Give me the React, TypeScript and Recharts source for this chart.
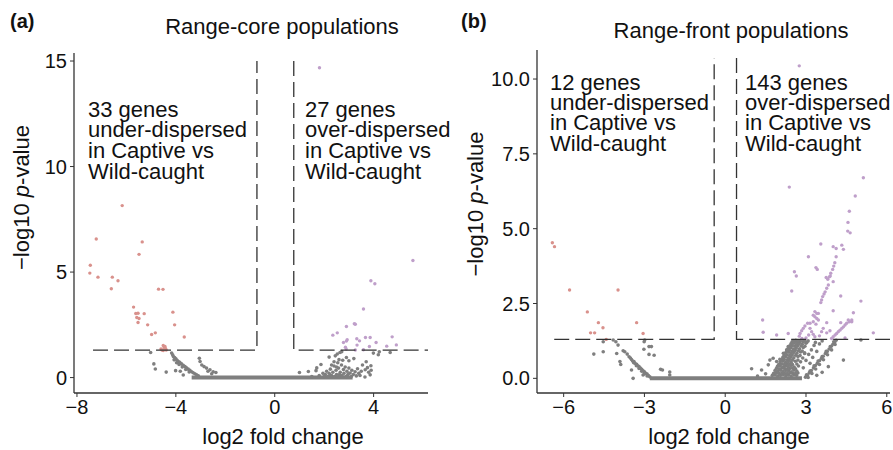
import React from "react";
import { ScatterChart, Scatter, XAxis, YAxis } from "recharts";

const FONT = "'Liberation Sans', Arial, Helvetica, sans-serif";
const RED = "#d9918c";
const PURPLE = "#bf9fca";
const GREY = "#7f7f7f";
const INK = "#333333";

// ---- panel (a): range-core ----
const TICKS_X_A = [-8, -4, 0, 4];
const TICKS_Y_A = [0, 5, 10, 15];

const RED_A = [
  [-6.17, 8.15], [-7.22, 6.57], [-5.36, 6.43], [-5.49, 5.84], [-7.46, 5.32], [-7.48, 4.95],
  [-7.15, 4.76], [-6.57, 4.76], [-6.34, 4.59], [-6.61, 4.21], [-4.7, 4.19], [-4.52, 4.18],
  [-5.71, 3.34], [-4.12, 3.1], [-5.62, 3.04], [-5.53, 3.05], [-5.28, 3.03], [-5.58, 2.85],
  [-5.49, 2.8], [-5.53, 2.61], [-5.14, 2.5], [-4.05, 2.5], [-4.83, 2.12], [-4.98, 2.04],
  [-3.66, 1.92], [-4.51, 1.52], [-4.44, 1.47], [-4.56, 1.31], [-4.39, 1.31], [-4.51, 1.28],
  [-4.47, 1.42], [-4.6, 1.36], [-4.42, 1.38],
];

const PURPLE_A = [
  [1.81, 14.68], [5.59, 5.55], [3.89, 4.59], [4.05, 4.45], [3.59, 3.25], [3.26, 2.53],
  [3.22, 2.55], [2.9, 2.42], [2.53, 2.12], [2.35, 2.01], [2.93, 1.79], [2.9, 1.73],
  [2.78, 1.66], [3.32, 1.84], [3.43, 1.74], [3.67, 1.9], [3.86, 1.9], [4.1, 1.66],
  [4.75, 1.93], [4.92, 1.55], [4.53, 1.49], [3.83, 1.47], [3.33, 1.54], [3.26, 1.31],
  [2.86, 1.44], [2.89, 1.35], [3.59, 1.32],
];

const GREY_A = [
  // left arm
  [-5.02, 1.19], [-4.89, 0.65], [-4.83, 0.41], [-4.39, 0.26], [-4.17, 1.16], [-4.1, 1.0],
  [-4.0, 0.89], [-3.9, 0.76], [-3.77, 0.65], [-3.63, 0.52], [-3.5, 0.4], [-3.36, 0.28],
  [-3.23, 0.18], [-3.09, 0.08], [-4.13, 1.08], [-4.05, 0.95], [-3.95, 0.82], [-3.84, 0.72],
  [-3.7, 0.58], [-3.57, 0.46], [-3.43, 0.34], [-3.3, 0.23], [-3.16, 0.13], [-4.07, 0.84],
  [-3.97, 0.7], [-3.87, 0.62], [-3.74, 0.5], [-3.6, 0.38], [-3.46, 0.27], [-4.01, 0.33],
  [-3.82, 0.3], [-3.7, 0.12], [-3.05, 0.92], [-3.02, 0.76], [-2.86, 0.52], [-2.76, 0.45],
  [-2.62, 0.37], [-2.49, 0.28], [-2.38, 0.24], [-2.95, 0.6], [-2.7, 0.3], [-2.55, 0.18],
  // right cluster
  [1.0, 0.24], [1.36, 0.29], [1.67, 0.33], [1.7, 0.46], [1.87, 0.62], [2.2, 0.97],
  [2.45, 1.03], [2.53, 1.12], [2.64, 1.19], [2.71, 1.23], [2.9, 0.95], [3.0, 0.8],
  [3.2, 0.9], [3.99, 1.16], [4.19, 1.08], [4.23, 1.22], [4.67, 1.19], [3.89, 0.56],
  [3.75, 0.47], [3.66, 0.37], [3.86, 0.13], [3.45, 0.1], [3.65, 0.03], [2.05, 0.15],
  [2.1, 0.3], [2.15, 0.05], [2.2, 0.2], [2.25, 0.4], [2.3, 0.1], [2.35, 0.25],
  [2.4, 0.55], [2.42, 0.05], [2.48, 0.35], [2.5, 0.15], [2.55, 0.7], [2.58, 0.45],
  [2.6, 0.05], [2.65, 0.25], [2.7, 0.6], [2.72, 0.1], [2.78, 0.38], [2.8, 0.2],
  [2.85, 0.5], [2.88, 0.05], [2.92, 0.3], [2.95, 0.12], [3.0, 0.45], [3.05, 0.22],
  [3.1, 0.05], [3.12, 0.35], [3.18, 0.15], [3.25, 0.28], [3.3, 0.08], [3.35, 0.42],
  [3.4, 0.2], [3.5, 0.3], [2.6, 0.85], [2.75, 0.82], [2.4, 0.75], [3.55, 0.6],
  [3.7, 0.75], [1.5, 0.05], [1.8, 0.1], [1.95, 0.2], [2.0, 0.05], [3.8, 0.25],
  [3.9, 0.35], [2.3, 0.6], [2.5, 0.5], [2.25, 0.12], [2.62, 0.15], [2.98, 0.18],
];

const FLAT_A = [[-3.36, 0], [3.15, 0]];
const DASH_A_LEFT = [[-7.35, 1.3], [-0.72, 1.3], [-0.72, 15]];
const DASH_A_RIGHT = [[0.77, 15], [0.77, 1.3], [6.2, 1.3]];

// ---- panel (b): range-front ----
const TICKS_X_B = [-6, -3, 0, 3, 6];
const TICKS_Y_B = [0, 2.5, 5, 7.5, 10];

const RED_B = [
  [-6.42, 4.53], [-6.34, 4.4], [-5.78, 2.95], [-3.98, 2.95], [-5.12, 2.22], [-4.71, 1.86],
  [-4.54, 1.69], [-5.0, 1.52], [-4.85, 1.52], [-3.29, 1.86], [-3.05, 1.5], [-4.42, 1.3],
];

const PURPLE_B = [
  [2.75, 10.44], [5.13, 6.7], [2.38, 6.39], [4.83, 6.09], [4.61, 5.58], [4.56, 5.21],
  [4.55, 4.92], [4.64, 4.86], [3.55, 4.49], [4.01, 4.4], [4.12, 4.34], [4.33, 4.45],
  [4.39, 4.31], [3.09, 4.06], [4.12, 4.06], [4.07, 3.86], [4.03, 3.75], [3.99, 3.64],
  [3.37, 3.7], [3.42, 3.64], [3.92, 3.51], [3.9, 3.42], [3.75, 3.37], [3.81, 3.31],
  [3.87, 3.39], [2.57, 3.56], [2.64, 3.42], [4.01, 3.23], [3.83, 3.12], [3.77, 3.01],
  [3.71, 2.89], [3.67, 2.82], [3.62, 2.73], [3.58, 2.62], [3.55, 2.53], [2.47, 2.92],
  [4.29, 2.75], [5.04, 2.58], [4.01, 2.26], [3.33, 2.23], [3.4, 2.17], [3.46, 2.17],
  [3.27, 2.11], [3.33, 2.06], [3.4, 2.0], [3.46, 1.95], [3.27, 1.89], [3.15, 1.84],
  [3.37, 1.81], [4.76, 2.19], [4.7, 1.95], [4.61, 1.89], [4.51, 1.84], [4.45, 1.78],
  [4.39, 1.72], [4.33, 1.67], [4.26, 1.61], [4.2, 1.56], [4.14, 1.5], [4.08, 1.45],
  [4.01, 1.39], [4.29, 1.86], [3.77, 1.86], [3.06, 1.84], [2.96, 1.75], [2.9, 1.67],
  [2.84, 1.59], [2.78, 1.5], [2.75, 1.41], [3.15, 1.67], [3.21, 1.56], [3.27, 1.47],
  [3.33, 1.39], [3.64, 1.67], [3.58, 1.56], [3.77, 1.52], [3.89, 1.59], [1.39, 1.95],
  [1.41, 1.54], [1.91, 1.45], [2.34, 1.5], [5.5, 1.52], [3.0, 1.35], [3.1, 1.45],
  [2.85, 1.33], [3.5, 1.42], [4.45, 1.35], [4.57, 1.95], [3.95, 1.33], [4.7, 1.89],
];

const GREY_B = [
  // left arm
  [-4.88, 0.81], [-4.53, 0.89], [-4.53, 1.22], [-4.16, 1.28], [-4.06, 1.22], [-3.98, 1.11],
  [-3.79, 0.92], [-3.73, 0.89], [-4.03, 0.83], [-3.91, 0.56], [-3.88, 0.46], [-3.64, 0.81],
  [-3.57, 0.72], [-3.48, 0.63], [-3.39, 0.56], [-3.29, 0.47], [-3.2, 0.39], [-3.1, 0.3],
  [-3.0, 0.22], [-2.9, 0.14], [-2.8, 0.05], [-3.52, 0.68], [-3.44, 0.58], [-3.35, 0.5],
  [-3.25, 0.42], [-3.15, 0.34], [-3.05, 0.25], [-2.95, 0.17], [-2.85, 0.09], [-3.4, 0.52],
  [-3.3, 0.42], [-3.2, 0.33], [-3.1, 0.24], [-3.0, 0.15], [-2.9, 0.08], [-3.48, 0.28],
  [-3.42, 0.0], [-3.05, 0.11], [-3.02, 0.97], [-2.83, 0.8], [-2.64, 0.77], [-2.83, 1.06],
  [-2.74, 1.06], [-2.99, 1.28], [-3.01, 1.22], [-2.4, 0.3], [-2.33, 0.28], [-2.06, 0.21],
  [-2.06, 0.11],
  // right: dense fan
  [1.75, 0.1], [1.85, 0.12], [1.95, 0.08], [2.05, 0.1], [2.15, 0.13], [2.25, 0.09],
  [2.35, 0.11], [2.45, 0.08], [2.55, 0.12], [2.65, 0.1],
  [1.8, 0.17], [1.9, 0.18], [2.0, 0.16], [2.1, 0.18], [2.2, 0.17], [2.3, 0.16],
  [2.4, 0.18], [2.5, 0.17], [2.6, 0.16], [2.7, 0.18],
  [1.85, 0.26], [1.95, 0.24], [2.05, 0.27], [2.15, 0.23], [2.25, 0.26], [2.35, 0.25],
  [2.45, 0.22], [2.55, 0.27], [2.66, 0.24],
  [1.9, 0.33], [2.0, 0.32], [2.1, 0.34], [2.2, 0.33], [2.3, 0.31], [2.4, 0.33],
  [2.5, 0.34], [2.61, 0.32],
  [1.94, 0.4], [2.04, 0.42], [2.14, 0.38], [2.24, 0.41], [2.34, 0.39], [2.44, 0.43],
  [2.56, 0.38], [2.72, 0.41],
  [1.99, 0.47], [2.09, 0.48], [2.19, 0.46], [2.29, 0.48], [2.39, 0.47], [2.5, 0.46],
  [2.66, 0.48],
  [2.04, 0.55], [2.14, 0.57], [2.24, 0.53], [2.34, 0.56], [2.45, 0.54], [2.6, 0.57],
  [2.8, 0.55],
  [2.09, 0.62], [2.19, 0.63], [2.29, 0.61], [2.39, 0.63], [2.5, 0.62], [2.7, 0.61],
  [2.14, 0.7], [2.24, 0.72], [2.34, 0.68], [2.44, 0.71], [2.55, 0.69], [2.7, 0.73],
  [2.88, 0.68],
  [2.19, 0.77], [2.29, 0.78], [2.39, 0.76], [2.49, 0.78], [2.62, 0.77], [2.78, 0.76],
  [2.24, 0.85], [2.34, 0.87], [2.44, 0.83], [2.54, 0.86], [2.66, 0.84], [2.8, 0.88],
  [2.95, 0.83],
  [2.29, 0.92], [2.39, 0.93], [2.49, 0.91], [2.6, 0.93], [2.72, 0.92], [2.86, 0.91],
  [2.34, 1.0], [2.44, 1.02], [2.54, 0.98], [2.64, 1.01], [2.76, 0.99], [2.9, 1.03],
  [2.39, 1.08], [2.49, 1.09], [2.59, 1.07], [2.7, 1.09], [2.82, 1.08], [2.96, 1.07],
  [2.44, 1.15], [2.54, 1.17], [2.64, 1.13], [2.74, 1.16], [2.86, 1.14], [3.0, 1.17],
  [2.48, 1.21], [2.58, 1.22], [2.68, 1.2], [2.78, 1.21], [2.9, 1.22], [3.03, 1.2],
  [2.52, 1.26], [2.62, 1.27], [2.72, 1.25], [2.82, 1.27], [2.95, 1.26], [3.08, 1.25],
  // right: second band
  [2.98, 0.04], [3.05, 0.1], [3.12, 0.18], [3.2, 0.26], [3.28, 0.35], [3.35, 0.43],
  [3.42, 0.5], [3.5, 0.59], [3.57, 0.66], [3.64, 0.74], [3.72, 0.83], [3.79, 0.9],
  [3.86, 0.98], [3.94, 1.07], [4.0, 1.14], [4.07, 1.21], [4.12, 1.27], [3.02, 0.12],
  [3.15, 0.24], [3.3, 0.42], [3.45, 0.58], [3.6, 0.73], [3.75, 0.9], [3.9, 1.06],
  [4.03, 1.22], [3.08, 0.03], [3.22, 0.16], [3.36, 0.31], [3.5, 0.46], [3.65, 0.62],
  [3.8, 0.79], [3.95, 0.95], [4.08, 1.13],
  // right: scatter
  [2.9, 0.35], [3.0, 0.6], [3.1, 0.8], [3.2, 0.95], [3.3, 1.1], [3.15, 0.5],
  [2.95, 0.85], [3.25, 0.7], [3.4, 0.9], [3.5, 1.15], [3.35, 1.2], [3.6, 1.25],
  [0.98, 0.32], [1.35, 0.28], [1.66, 0.61], [1.78, 0.67], [1.91, 0.56], [2.03, 0.64],
  [2.16, 0.84], [2.28, 0.95], [2.34, 1.06], [1.5, 0.15], [1.6, 0.45], [1.2, 0.08],
  [3.83, 0.39], [4.39, 0.61], [5.04, 1.28], [3.6, 0.2], [3.4, 0.1],
];

const FLAT_B = [[-2.8, 0], [2.85, 0]];
const DASH_B_LEFT = [[-6.35, 1.3], [-0.41, 1.3], [-0.41, 10.7]];
const DASH_B_RIGHT = [[0.42, 10.7], [0.42, 1.3], [6.12, 1.3]];

const pts = (arr: number[][]) => arr.map(([x, y]) => ({ x, y }));
const dot = (color: string, r: number) => (p: any) => <circle cx={p.cx} cy={p.cy} r={r} fill={color} />;
const noDot = () => <g />;
const minus = (v: number) => String(v).replace("-", "\u2212");

const dashLine = { stroke: INK, strokeWidth: 1.3, strokeDasharray: "15 6", fill: "none" };
const tickStyle = { fill: "#111", fontSize: 20, fontFamily: FONT };

interface PanelProps {
  width: number;
  margin: { top: number; right: number; left: number; bottom: number };
  yWidth: number;
  xDomain: [number, number];
  yDomain: [number, number];
  xTicks: number[];
  yTicks: number[];
  yFmt: (v: number) => string;
  red: number[][];
  purple: number[][];
  grey: number[][];
  flat: number[][];
  dashL: number[][];
  dashR: number[][];
}

const Panel: React.FC<PanelProps> = (p) => (
  <ScatterChart width={p.width} height={450} margin={p.margin}>
    <XAxis
      type="number"
      dataKey="x"
      domain={p.xDomain}
      ticks={p.xTicks}
      interval={0}
      allowDataOverflow
      tickFormatter={minus}
      tick={tickStyle}
      tickSize={4}
      tickMargin={3}
      height={57}
      axisLine={{ stroke: INK, strokeWidth: 1.3 }}
      tickLine={{ stroke: INK }}
    />
    <YAxis
      type="number"
      dataKey="y"
      domain={p.yDomain}
      ticks={p.yTicks}
      interval={0}
      allowDataOverflow
      tickFormatter={p.yFmt}
      tick={tickStyle}
      tickSize={4}
      tickMargin={3}
      width={p.yWidth}
      axisLine={{ stroke: INK, strokeWidth: 1.3 }}
      tickLine={{ stroke: INK }}
    />
    <Scatter data={pts(p.flat)} fill={GREY} shape={noDot} line={{ stroke: GREY, strokeWidth: 4 }} isAnimationActive={false} />
    <Scatter data={pts(p.grey)} fill={GREY} shape={dot(GREY, 1.8)} isAnimationActive={false} />
    <Scatter data={pts(p.red)} fill={RED} shape={dot(RED, 1.7)} isAnimationActive={false} />
    <Scatter data={pts(p.purple)} fill={PURPLE} shape={dot(PURPLE, 1.7)} isAnimationActive={false} />
    <Scatter data={pts(p.dashL)} fill={INK} shape={noDot} line={dashLine} isAnimationActive={false} />
    <Scatter data={pts(p.dashR)} fill={INK} shape={noDot} line={dashLine} isAnimationActive={false} />
  </ScatterChart>
);

const Note: React.FC<{ x: number; y: number; lines: string[]; step: number }> = ({ x, y, lines, step }) => (
  <g fontSize={22}>
    {lines.map((l, i) => (
      <text key={i} x={x} y={y + i * step}>
        {l}
      </text>
    ))}
  </g>
);

export default function App() {
  return (
    <div style={{ position: "absolute", left: 0, top: 0, width: 893, height: 450, background: "#fff", fontFamily: FONT }}>
      <div style={{ position: "absolute", left: 0, top: 0 }}>
        <Panel
          width={445}
          margin={{ top: 53, right: 17, left: 0, bottom: 0 }}
          yWidth={74}
          xDomain={[-8.12, 6.2]}
          yDomain={[-0.73, 15.38]}
          xTicks={TICKS_X_A}
          yTicks={TICKS_Y_A}
          yFmt={(v) => String(v)}
          red={RED_A}
          purple={PURPLE_A}
          grey={GREY_A}
          flat={FLAT_A}
          dashL={DASH_A_LEFT}
          dashR={DASH_A_RIGHT}
        />
      </div>
      <div style={{ position: "absolute", left: 445, top: 0 }}>
        <Panel
          width={448}
          margin={{ top: 50, right: 3, left: 0, bottom: 0 }}
          yWidth={92}
          xDomain={[-6.99, 6.12]}
          yDomain={[-0.49, 10.97]}
          xTicks={TICKS_X_B}
          yTicks={TICKS_Y_B}
          yFmt={(v) => v.toFixed(1)}
          red={RED_B}
          purple={PURPLE_B}
          grey={GREY_B}
          flat={FLAT_B}
          dashL={DASH_B_LEFT}
          dashR={DASH_B_RIGHT}
        />
      </div>
      <svg
        width={893}
        height={450}
        style={{ position: "absolute", left: 0, top: 0, pointerEvents: "none" }}
        fontFamily={FONT}
        fill="#111"
      >
        <text x={10} y={28} fontSize={20} fontWeight="bold">(a)</text>
        <text x={461} y={28} fontSize={20} fontWeight="bold">(b)</text>
        <text x={282} y={33.5} fontSize={22} textAnchor="middle">Range-core populations</text>
        <text x={731} y={37.5} fontSize={22} textAnchor="middle">Range-front populations</text>

        <Note x={88} y={116.5} step={20.9} lines={["33 genes", "under-dispersed", "in Captive vs", "Wild-caught"]} />
        <Note x={305} y={116.5} step={20.9} lines={["27 genes", "over-dispersed", "in Captive vs", "Wild-caught"]} />
        <Note x={550} y={89.8} step={20.3} lines={["12 genes", "under-dispersed", "in Captive vs", "Wild-caught"]} />
        <Note x={745} y={89.8} step={20.3} lines={["143 genes", "over-dispersed", "in Captive vs", "Wild-caught"]} />

        <text x={283} y={444} fontSize={22} textAnchor="middle">log2 fold change</text>
        <text x={729} y={444} fontSize={22} textAnchor="middle">log2 fold change</text>

        <text transform="translate(29.3,197.5) rotate(-90)" fontSize={22} textAnchor="middle">
          {"\u2212log10 "}
          <tspan fontStyle="italic">p</tspan>
          {"-value"}
        </text>
        <text transform="translate(482.7,204) rotate(-90)" fontSize={22} textAnchor="middle">
          {"\u2212log10 "}
          <tspan fontStyle="italic">p</tspan>
          {"-value"}
        </text>
      </svg>
    </div>
  );
}
